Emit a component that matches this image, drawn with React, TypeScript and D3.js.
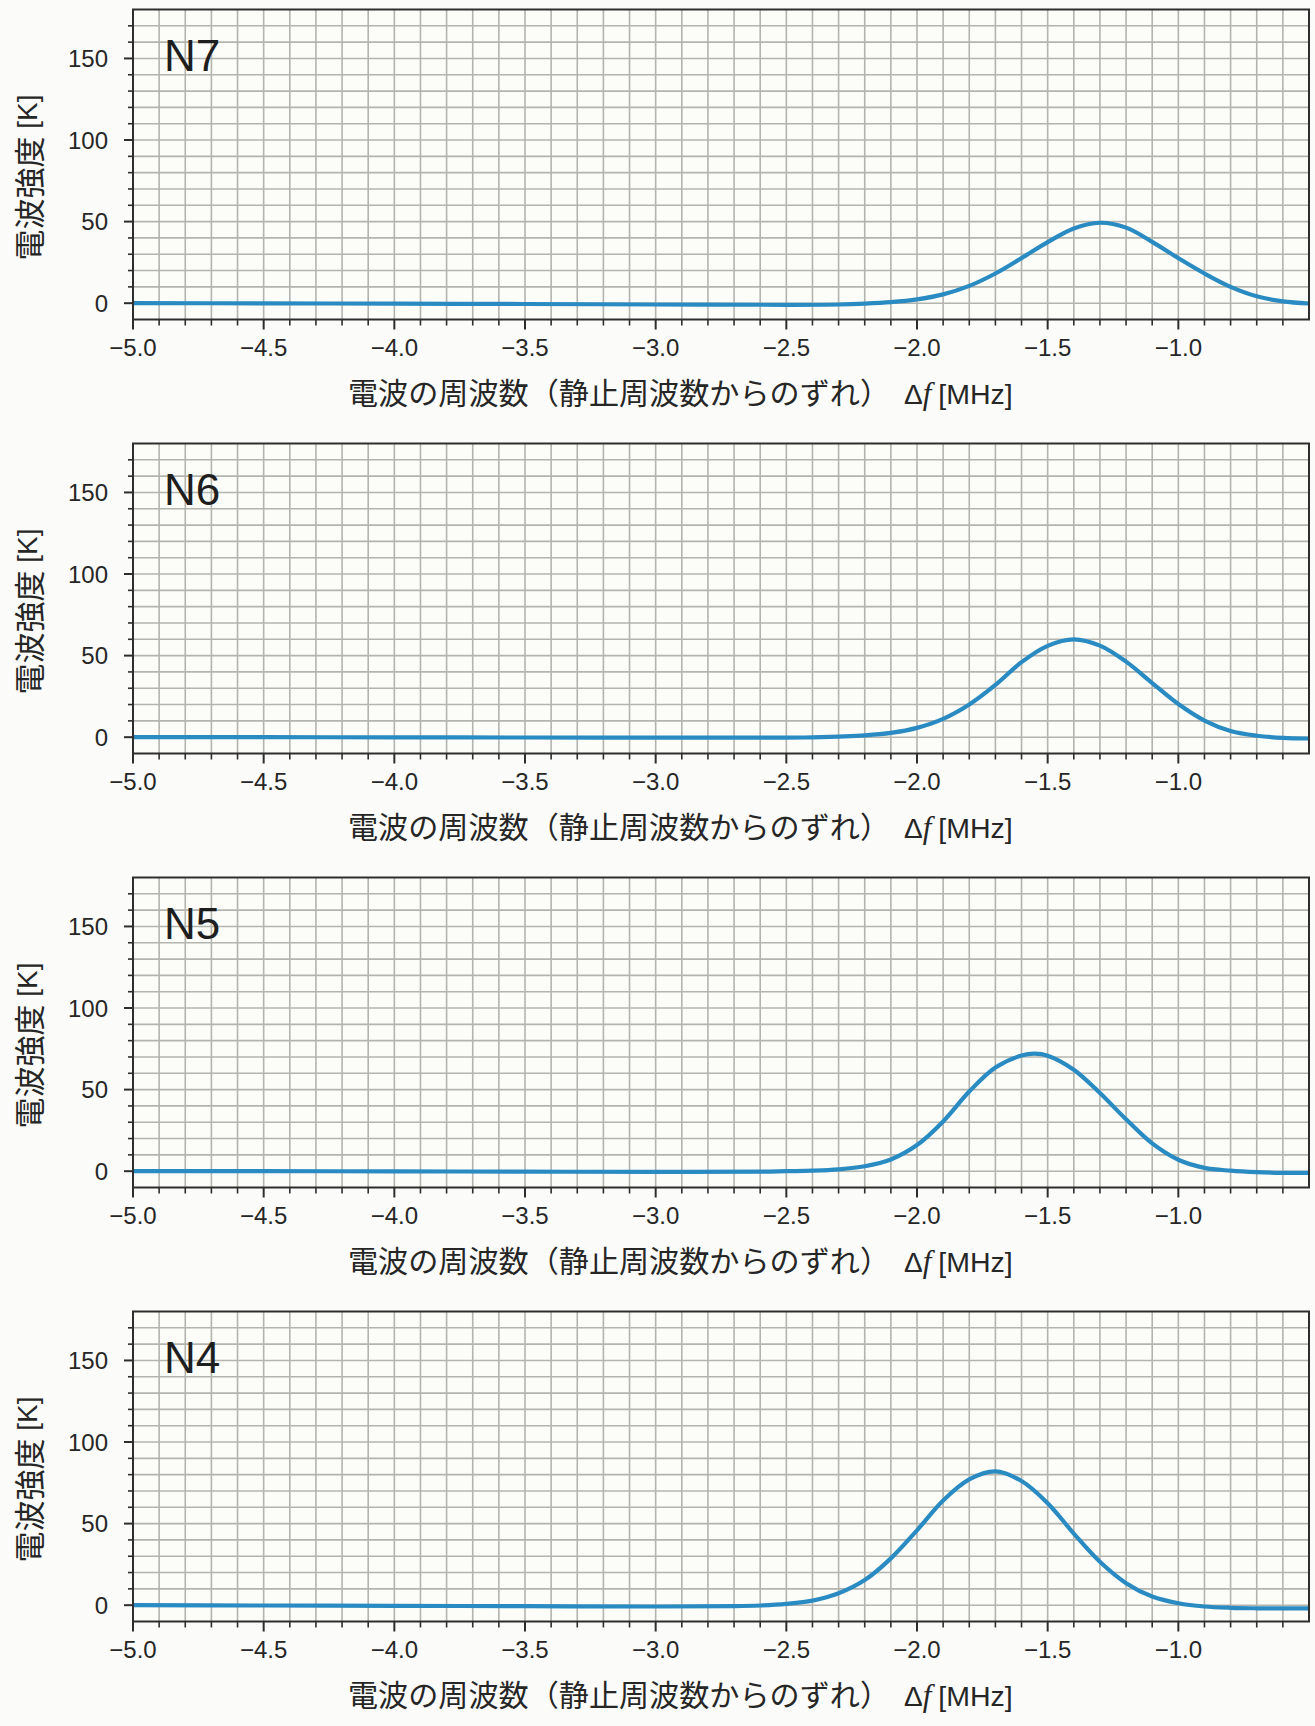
import React from 'react';
import * as d3 from 'd3';

const W = 1315;
const H = 1726;

// panel labels (top to bottom)
const panelNames = ['N7', 'N6', 'N5', 'N4'];

// frequency offset [MHz] and intensity [K]
const freqN7 = [-5.0, -4.5, -4.0, -3.5, -3.0, -2.5, -2.3, -2.2, -2.1, -2.0, -1.9, -1.8, -1.7, -1.6, -1.5, -1.4, -1.3, -1.2, -1.1, -1.0, -0.9, -0.8, -0.7, -0.6, -0.5];
const tempN7 = [0, -0.1, -0.3, -0.5, -0.8, -1.0, -0.8, -0.3, 0.6, 2.3, 5.4, 10.6, 18.2, 27.6, 37.4, 45.8, 49.3, 46.3, 37.6, 27.6, 18.2, 10.0, 4.2, 1.1, -0.2];

const freqN6 = [-5.0, -4.5, -4.0, -3.5, -3.0, -2.5, -2.4, -2.3, -2.2, -2.1, -2.0, -1.9, -1.8, -1.7, -1.6, -1.5, -1.4, -1.3, -1.2, -1.1, -1.0, -0.9, -0.8, -0.7, -0.6, -0.5];
const tempN6 = [0, 0, -0.1, -0.2, -0.3, -0.3, -0.1, 0.4, 1.1, 2.6, 5.7, 11.2, 20.0, 32.0, 46.0, 56.0, 60.0, 56.1, 46.3, 33.2, 20.3, 10.2, 3.8, 0.9, -0.4, -0.8];

const freqN5 = [-5.0, -4.5, -4.0, -3.5, -3.0, -2.6, -2.5, -2.4, -2.3, -2.2, -2.1, -2.0, -1.9, -1.8, -1.7, -1.6, -1.55, -1.5, -1.4, -1.3, -1.2, -1.1, -1.0, -0.9, -0.8, -0.7, -0.6, -0.5];
const tempN5 = [0, 0, -0.1, -0.3, -0.4, -0.3, 0, 0.3, 1.1, 3.0, 7.2, 16.0, 30.5, 48.8, 63.5, 70.9, 72.0, 70.8, 62.2, 47.9, 31.8, 17.0, 7.0, 2.0, 0.3, -0.6, -1.0, -1.0];

const freqN4 = [-5.0, -4.5, -4.0, -3.5, -3.0, -2.7, -2.6, -2.5, -2.4, -2.3, -2.2, -2.1, -2.0, -1.9, -1.8, -1.7, -1.6, -1.5, -1.4, -1.3, -1.2, -1.1, -1.0, -0.9, -0.8, -0.7, -0.6, -0.5];
const tempN4 = [0, -0.2, -0.4, -0.6, -0.8, -0.6, -0.2, 0.8, 2.8, 7.3, 15.4, 28.7, 45.9, 64.2, 77.1, 82.0, 76.1, 62.5, 43.9, 26.6, 13.5, 5.3, 1.2, -0.8, -1.6, -1.9, -2.0, -2.0];

const panelFreqs = [freqN7, freqN6, freqN5, freqN4];
const panelTemps = [tempN7, tempN6, tempN5, tempN4];

// axes
const xDomain = [-5.0, -0.5];
const yDomain = [-10, 180];
const xMajorTicks = [-5.0, -4.5, -4.0, -3.5, -3.0, -2.5, -2.0, -1.5, -1.0];
const yMajorTicks = [0, 50, 100, 150];

const yTitle = '電波強度';
const yUnit = ' [K]';
const xTitle = '電波の周波数（静止周波数からのずれ）';
const xUnit = '[MHz]';

// layout
const left = 133;
const right = 1309;
const firstTop = 9.5;
const panelStep = 434;
const plotH = 310;

const sansFont = "'Liberation Sans', Arial, Helvetica, sans-serif";
const cjkFont = "'Noto Sans CJK JP', 'Noto Sans CJK SC', sans-serif";
const textColor = '#262626';
const frameColor = '#2e2e2e';
const gridColor = '#b3b4ae';
const lineColor = '#2a8bc3';

const fmt = (d: number) => (d < 0 ? '\u2212' : '') + Math.abs(d).toFixed(1);

const Panel = ({ idx }: { idx: number }) => {
  const top = firstTop + idx * panelStep;
  const bottom = top + plotH;
  const x = d3.scaleLinear().domain(xDomain).range([left, right]);
  const y = d3.scaleLinear().domain(yDomain).range([bottom, top]);

  const freq = panelFreqs[idx];
  const temp = panelTemps[idx];
  const pts = freq.map((f, i) => ({ f, t: temp[i] }));
  const line = d3
    .line<{ f: number; t: number }>()
    .x((d) => x(d.f))
    .y((d) => y(d.t))
    .curve(d3.curveCatmullRom.alpha(0.5));

  const vGrid = d3.range(-49, -5).map((i) => i / 10);
  const hGrid = d3.range(0, 180, 10);
  const xMinor = d3.range(-49, -5).filter((i) => i % 5 !== 0).map((i) => i / 10);
  const yMinor = d3.range(10, 180, 10).filter((v) => v % 50 !== 0);
  const clipId = `clip-${idx}`;
  const midY = (top + bottom) / 2;

  return (
    <g>
      <defs>
        <clipPath id={clipId}>
          <rect x={left} y={top} width={right - left} height={plotH} />
        </clipPath>
      </defs>
      <rect x={left} y={top} width={right - left} height={plotH} fill="#fcfdf8" />
      {vGrid.map((v) => (
        <line key={'v' + v} x1={x(v)} x2={x(v)} y1={top} y2={bottom} stroke={gridColor} strokeWidth={1.6} />
      ))}
      {hGrid.map((v) => (
        <line key={'h' + v} x1={left} x2={right} y1={y(v)} y2={y(v)} stroke={gridColor} strokeWidth={1.6} />
      ))}
      <path d={line(pts) || ''} fill="none" stroke={lineColor} strokeWidth={4.2} strokeLinejoin="round" clipPath={`url(#${clipId})`} />
      <rect x={left} y={top} width={right - left} height={plotH} fill="none" stroke={frameColor} strokeWidth={2} />

      {/* x ticks */}
      {xMajorTicks.map((v) => (
        <line key={'xt' + v} x1={x(v)} x2={x(v)} y1={bottom} y2={bottom + 10} stroke={frameColor} strokeWidth={2} />
      ))}
      {xMinor.map((v) => (
        <line key={'xm' + v} x1={x(v)} x2={x(v)} y1={bottom} y2={bottom + 6} stroke={frameColor} strokeWidth={1.6} />
      ))}
      {xMajorTicks.map((v) => (
        <text key={'xl' + v} x={x(v)} y={bottom + 36} textAnchor="middle" fontFamily={sansFont} fontSize={24} fill={textColor}>
          {fmt(v)}
        </text>
      ))}

      {/* y ticks */}
      {yMajorTicks.map((v) => (
        <line key={'yt' + v} x1={left - 9} x2={left} y1={y(v)} y2={y(v)} stroke={frameColor} strokeWidth={2} />
      ))}
      {yMinor.map((v) => (
        <line key={'ym' + v} x1={left - 5} x2={left} y1={y(v)} y2={y(v)} stroke={frameColor} strokeWidth={1.6} />
      ))}
      {yMajorTicks.map((v) => (
        <text key={'yl' + v} x={left - 25} y={y(v)} dy="0.36em" textAnchor="end" fontFamily={sansFont} fontSize={24} fill={textColor}>
          {v}
        </text>
      ))}

      {/* panel label */}
      <text x={left + 31} y={top + 61} fontFamily={sansFont} fontSize={44} fill="#1e1e1e">
        {panelNames[idx]}
      </text>

      {/* y title */}
      <text transform={`translate(27,${midY + 13}) rotate(-90)`} textAnchor="middle" dominantBaseline="central" fill={textColor}>
        <tspan fontFamily={cjkFont} fontSize={31}>{yTitle}</tspan>
        <tspan fontFamily={sansFont} fontSize={28}>{yUnit}</tspan>
      </text>

      {/* x title */}
      <text x={left + 215} y={bottom + 84} fontFamily={cjkFont} fontSize={30} fill={textColor} textLength={542} lengthAdjust="spacingAndGlyphs">
        {xTitle}
      </text>
      <text x={left + 771} y={bottom + 84} fill={textColor}>
        <tspan fontFamily={sansFont} fontSize={28}>Δ</tspan>
        <tspan fontFamily="'Liberation Serif', 'Times New Roman', serif" fontStyle="italic" fontSize={31}>f</tspan>
        <tspan dx={7} fontFamily={sansFont} fontSize={28.5}>{xUnit}</tspan>
      </text>
    </g>
  );
};

export default function App() {
  return (
    <svg width={W} height={H} style={{ position: 'absolute', left: 0, top: 0, background: '#fbfbf9' }}>
      <rect x={0} y={0} width={W} height={H} fill="#fbfbf9" />
      {panelNames.map((_, i) => (
        <Panel key={i} idx={i} />
      ))}
    </svg>
  );
}
